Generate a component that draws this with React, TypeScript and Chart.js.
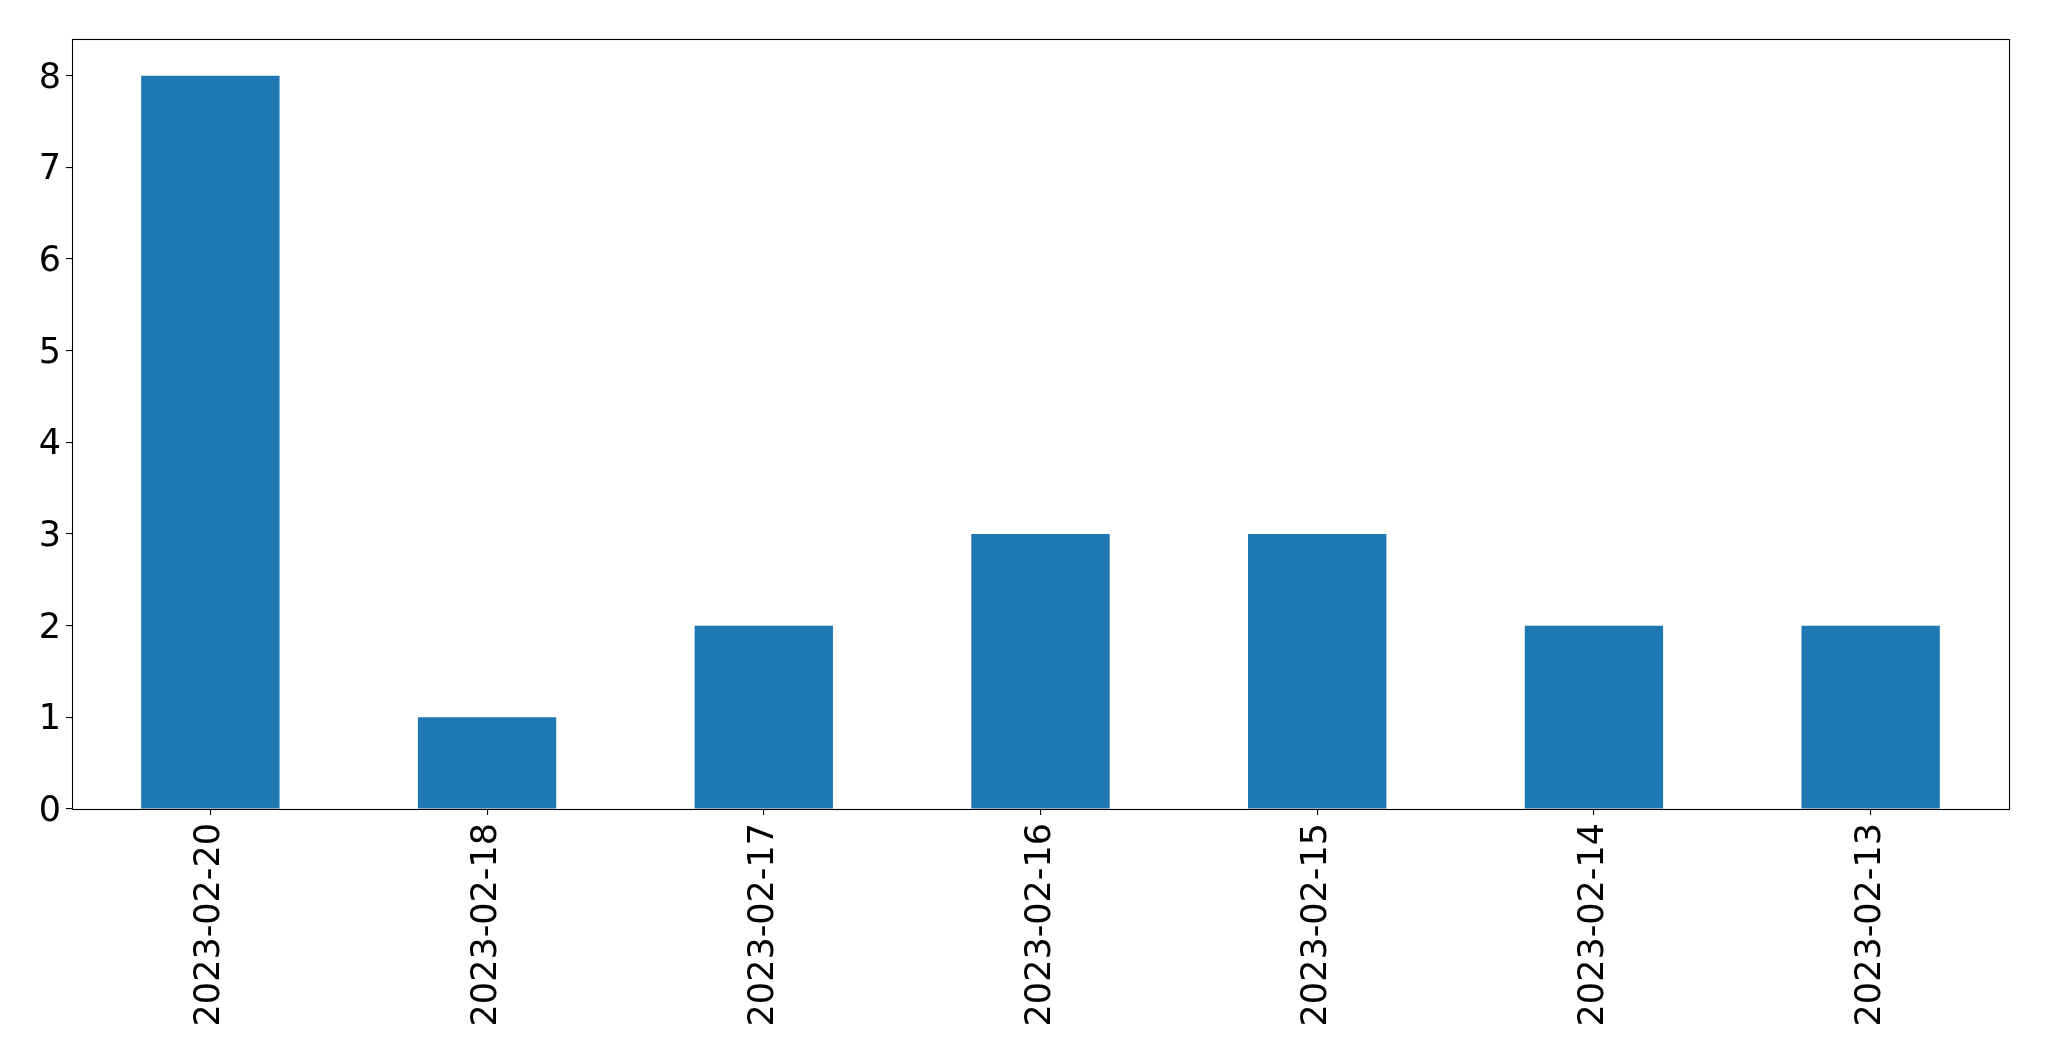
import React, { useEffect, useRef } from "react";
import { Chart, registerables } from "chart.js";

Chart.register(...registerables);

const categories = [
  "2023-02-20",
  "2023-02-18",
  "2023-02-17",
  "2023-02-16",
  "2023-02-15",
  "2023-02-14",
  "2023-02-13",
];
const counts = [8, 1, 2, 3, 3, 2, 2];
const yMin = 0;
const yMax = 8.4;
const yStep = 1;

const W = 2049;
const H = 1061;

const frame = {
  id: "frame",
  afterDatasetsDraw(chart: any) {
    const { ctx, chartArea } = chart;
    ctx.save();
    ctx.strokeStyle = "#000";
    ctx.lineWidth = 1.1;
    ctx.strokeRect(
      Math.round(chartArea.left) + 0.5,
      Math.round(chartArea.top) + 0.5,
      Math.round(chartArea.right - chartArea.left),
      Math.round(chartArea.bottom - chartArea.top)
    );
    ctx.restore();
  },
};

export default function App() {
  const ref = useRef<HTMLCanvasElement | null>(null);

  useEffect(() => {
    if (!ref.current) return;
    const font = { family: "'DejaVu Sans', sans-serif", size: 35 };
    const chart = new Chart(ref.current, {
      type: "bar",
      data: {
        labels: categories,
        datasets: [
          {
            data: counts,
            backgroundColor: "#1f77b4",
            borderWidth: 0,
            categoryPercentage: 1,
            barPercentage: 0.5,
          },
        ],
      },
      options: {
        responsive: false,
        animation: false,
        devicePixelRatio: 1,
        layout: { padding: { left: 0, right: 40, top: 39, bottom: 0 } },
        plugins: {
          legend: { display: false },
          tooltip: { enabled: false },
        },
        scales: {
          x: {
            offset: true,
            grid: {
              display: true,
              offset: false,
              drawOnChartArea: false,
              drawTicks: true,
              tickLength: 6,
              color: "#000",
              lineWidth: 1.1,
            },
            border: { display: false },
            ticks: {
              color: "#000",
              font,
              maxRotation: 90,
              minRotation: 90,
              autoSkip: false,
              padding: 8,
            },
            afterFit: (scale: any) => {
              scale.height = H - 809;
            },
          },
          y: {
            min: yMin,
            max: yMax,
            grid: {
              display: true,
              drawOnChartArea: false,
              drawTicks: true,
              tickLength: 6,
              color: "#000",
              lineWidth: 1.1,
            },
            border: { display: false },
            ticks: {
              stepSize: yStep,
              includeBounds: false,
              color: "#000",
              font,
              padding: 5,
              labelOffset: 3,
            },
            afterFit: (scale: any) => {
              scale.width = 72;
            },
          },
        },
      },
      plugins: [frame],
    });
    return () => chart.destroy();
  }, []);

  return (
    <div style={{ position: "fixed", left: 0, top: 0, width: W, height: H, background: "#fff" }}>
      <canvas ref={ref} width={W} height={H} style={{ display: "block", width: W, height: H }} />
    </div>
  );
}
